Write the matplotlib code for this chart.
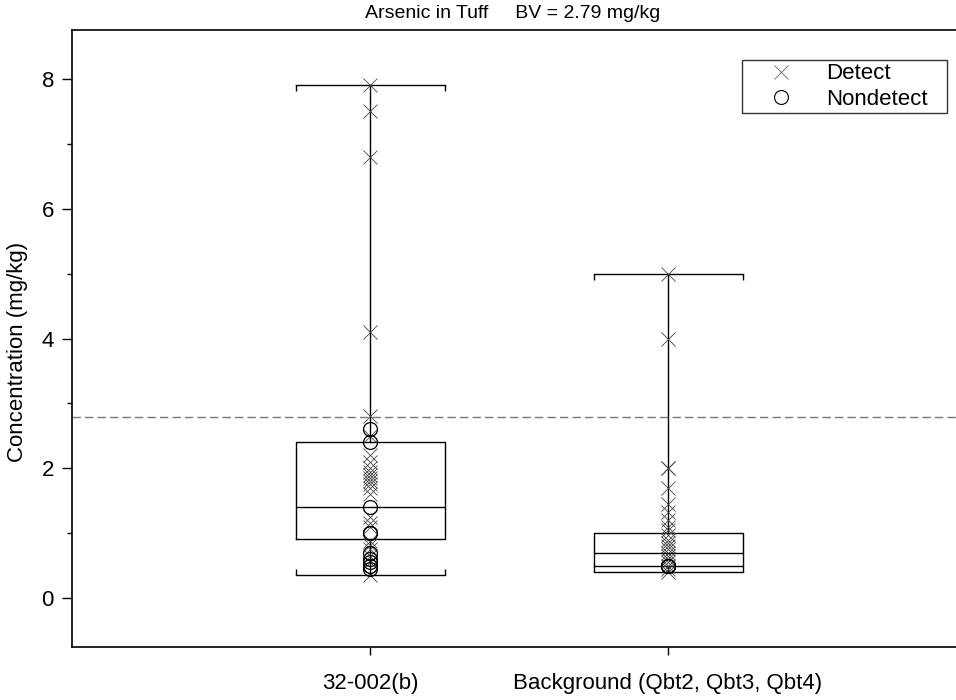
import matplotlib
matplotlib.use("Agg")
import matplotlib.pyplot as plt
from matplotlib.lines import Line2D

plt.rcParams['font.family'] = ['Liberation Sans', 'DejaVu Sans']

# ---- data ----
categories = ["32-002(b)", "Background (Qbt2, Qbt3, Qbt4)"]
title_text = "Arsenic in Tuff     BV = 2.79 mg/kg"
ylabel_text = "Concentration (mg/kg)"
bv_value = 2.79

# box statistics (min, q1, median, q3, max)
box_min = [0.35, 0.40]
box_q1 = [0.91, 0.50]
box_med = [1.40, 0.70]
box_q3 = [2.40, 1.00]
box_max = [7.90, 5.00]

detect_site = [7.9, 7.5, 6.8, 4.1, 2.8, 2.5, 2.2, 2.1, 2.0, 1.95, 1.9, 1.85, 1.8,
               1.75, 1.7, 1.6, 1.25, 1.15, 1.1, 0.88, 0.82, 0.75, 0.65, 0.55, 0.35]
nondetect_site = [2.6, 2.4, 1.4, 1.0, 1.0, 0.7, 0.6, 0.55, 0.5, 0.45]

detect_bg = [5.0, 4.0, 2.0, 2.0, 1.7, 1.45, 1.33, 1.2, 1.1, 1.05, 0.97, 0.9, 0.85,
             0.8, 0.75, 0.7, 0.65, 0.6, 0.55, 0.5, 0.45, 0.4]
nondetect_bg = [0.5, 0.5, 0.5]

detects = [detect_site, detect_bg]
nondetects = [nondetect_site, nondetect_bg]

yticks_major = [0, 2, 4, 6, 8]
yticks_minor = [1, 3, 5, 7]

# ---- figure ----
W, H = 956, 700
fig = plt.figure(figsize=(W / 100, H / 100), dpi=100)
ax = fig.add_axes([72 / W, 1 - 647 / H, (966 - 72) / W, (647 - 30) / H])
ax.set_xlim(0, 3)
ax.set_ylim(-0.755, 8.755)

positions = [1, 2]
stats = []
for i in range(2):
    stats.append(dict(med=box_med[i], q1=box_q1[i], q3=box_q3[i],
                      whislo=box_min[i], whishi=box_max[i], fliers=[]))
ax.bxp(stats, positions=positions, widths=0.5, showfliers=False,
       boxprops=dict(color='black', lw=1.0),
       medianprops=dict(color='black', lw=1.0),
       whiskerprops=dict(color='black', lw=1.0),
       capprops=dict(color='black', lw=1.0),
       capwidths=0.5, manage_ticks=False)

# cap end ticks
for i, p in enumerate(positions):
    ax.plot([p - 0.25, p + 0.25], [box_max[i]] * 2, ls='none', marker=3,
            ms=4.5, mew=1.0, color='black')
    ax.plot([p - 0.25, p + 0.25], [box_min[i]] * 2, ls='none', marker=2,
            ms=4.5, mew=1.0, color='black')

# BV line
ax.axhline(bv_value, color='#777777', lw=1.0, ls=(0, (6, 3)))

# points
for i, p in enumerate(positions):
    ax.plot([p] * len(detects[i]), detects[i], ls='none', marker='x', ms=10,
            mew=0.6, color='#444444')
    ax.plot([p] * len(nondetects[i]), nondetects[i], ls='none', marker='o', ms=10,
            mfc='none', mew=0.9, color='black')

# axes styling
for s in ['left', 'bottom', 'top']:
    ax.spines[s].set_linewidth(1.2)
ax.spines['right'].set_visible(False)

ax.set_yticks(yticks_major)
ax.set_yticks(yticks_minor, minor=True)
ax.set_yticklabels([str(v) for v in yticks_major])
ax.tick_params(axis='y', which='major', length=7, width=1, pad=6, labelsize=16, direction='out')
ax.tick_params(axis='y', which='minor', length=3.5, width=1, direction='out')
ax.set_xticks(positions)
ax.set_xticklabels(categories)
ax.tick_params(axis='x', which='major', length=6, width=1, pad=13, labelsize=16, direction='out')
ax.tick_params(axis='x', which='minor', bottom=False)

fig.text(18 / W, 1 - 352 / H, ylabel_text, rotation=90, ha='center', va='center',
         fontsize=16)
fig.text(513 / W, 1 - 13 / H, title_text, ha='center', va='center', fontsize=14)

handles = [Line2D([], [], ls='none', marker='x', ms=10, mew=0.6, color='#666666'),
           Line2D([], [], ls='none', marker='o', ms=10, mfc='none', mew=0.8, color='black')]
leg = ax.legend(handles, ['Detect', 'Nondetect'], loc='upper left',
                bbox_to_anchor=(742 / W, 1 - 114 / H, 205 / W, 54 / H),
                bbox_transform=fig.transFigure, mode='expand',
                fontsize=16, frameon=True, fancybox=False, borderpad=0.15,
                handlelength=3.2, handletextpad=0.45, labelspacing=0.2,
                borderaxespad=0)
leg.get_frame().set_edgecolor('black')
leg.get_frame().set_linewidth(1.0)

fig.savefig('out.png', dpi=100)
